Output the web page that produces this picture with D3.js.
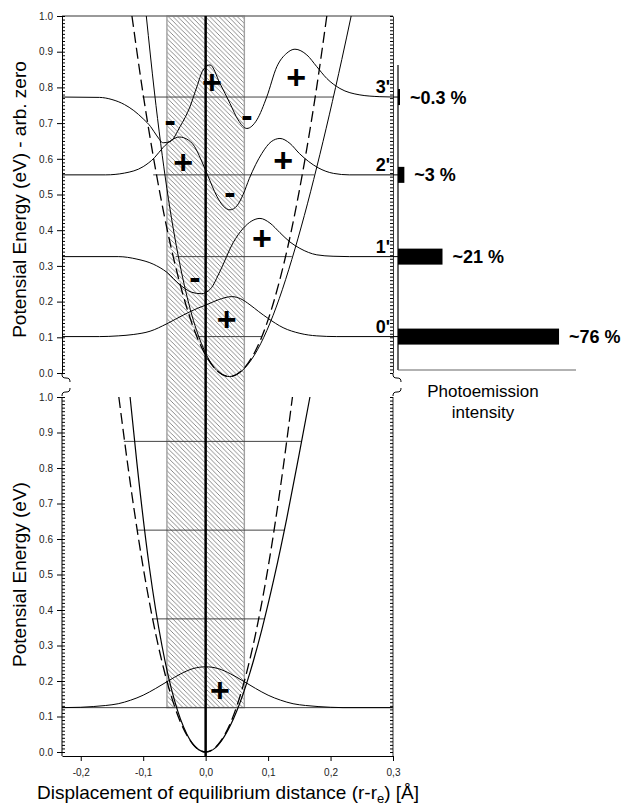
<!DOCTYPE html>
<html><head><meta charset="utf-8">
<script src="https://cdn.jsdelivr.net/npm/d3@7"></script>
<style>
body{margin:0;background:#fff}
text{font-family:Arial,"Liberation Sans",sans-serif}
</style>
</head><body>
<svg id="c" width="623" height="812"></svg>
<script>
// ---------- DATA ----------
const xTicks = [-0.2,-0.1,0.0,0.1,0.2,0.3];
const xTickLabels = ["-0,2","-0,1","0,0","0,1","0,2","0,3"];
const yTicks = [0,0.1,0.2,0.3,0.4,0.5,0.6,0.7,0.8,0.9,1.0];
const yTickLabels = ["0.0","0.1","0.2","0.3","0.4","0.5","0.6","0.7","0.8","0.9","1.0"];

// neutral (lower panel) potentials [x, E]
const neutralHarmonic = [[-0.139,1.0],[-0.12,0.749],[-0.1,0.52],[-0.08,0.333],[-0.06,0.187],[-0.04,0.083],[-0.02,0.021],[0,0],[0.02,0.021],[0.04,0.083],[0.06,0.187],[0.08,0.333],[0.1,0.52],[0.12,0.749],[0.139,1.0]];
const neutralMorse = [[-0.121,1.0],[-0.11,0.813],[-0.09,0.519],[-0.07,0.3],[-0.05,0.146],[-0.03,0.05],[-0.015,0.012],[0,0],[0.015,0.011],[0.03,0.044],[0.05,0.116],[0.07,0.218],[0.09,0.345],[0.11,0.493],[0.13,0.659],[0.15,0.841],[0.167,1.0]];
const neutralWave0 = [[-0.23,0.125],[-0.2,0.126],[-0.18,0.128],[-0.16,0.131],[-0.14,0.136],[-0.12,0.146],[-0.1,0.16],[-0.08,0.179],[-0.06,0.2],[-0.04,0.22],[-0.02,0.235],[0,0.24],[0.02,0.235],[0.04,0.22],[0.06,0.2],[0.08,0.179],[0.1,0.16],[0.12,0.146],[0.14,0.136],[0.16,0.131],[0.18,0.128],[0.2,0.126],[0.22,0.125],[0.3,0.125]];
const neutralLevels = [0.125,0.375,0.625,0.875];
const neutralLevelLeft = [-0.23,-0.085,-0.110,-0.131];
const neutralLevelRight = [0.3,0.095,0.127,0.154];

// ion (upper panel) potentials [x, E]
const ionHarmonic = [[-0.118,1.0],[-0.102,0.803],[-0.082,0.588],[-0.062,0.405],[-0.042,0.256],[-0.022,0.139],[-0.002,0.056],[0.018,0.007],[0.038,-0.01],[0.058,0.007],[0.078,0.056],[0.098,0.139],[0.118,0.256],[0.138,0.405],[0.158,0.588],[0.178,0.803],[0.194,1.0]];
const ionMorse = [[-0.095,1.0],[-0.082,0.787],[-0.062,0.516],[-0.042,0.311],[-0.022,0.162],[-0.002,0.063],[0.018,0.007],[0.038,-0.01],[0.058,0.006],[0.078,0.05],[0.098,0.119],[0.118,0.209],[0.138,0.318],[0.158,0.441],[0.178,0.577],[0.198,0.723],[0.218,0.878],[0.233,1.0]];
const ionLevels = [0.102,0.326,0.555,0.773];
const ionLevelNames = ["0'","1'","2'","3'"];
const ionLevelLeft = [-0.012,-0.048,-0.084,-0.101];
const ionLevelRight = [0.09,0.138,0.174,0.204];

const ionWave0 = [[-0.23,0.102],[-0.17,0.102],[-0.14,0.104],[-0.115,0.108],[-0.089,0.117],[-0.062,0.138],[-0.035,0.163],[-0.012,0.182],[0.0,0.19],[0.02,0.205],[0.042,0.214],[0.056,0.208],[0.071,0.191],[0.085,0.172],[0.1,0.153],[0.124,0.127],[0.151,0.111],[0.178,0.104],[0.21,0.102],[0.3,0.102]];
const ionWave1 = [[-0.23,0.326],[-0.14,0.326],[-0.11,0.319],[-0.084,0.305],[-0.062,0.282],[-0.041,0.247],[-0.022,0.226],[-0.007,0.222],[0.008,0.236],[0.023,0.285],[0.044,0.365],[0.06,0.405],[0.074,0.426],[0.087,0.433],[0.103,0.42],[0.119,0.393],[0.135,0.367],[0.151,0.349],[0.178,0.331],[0.204,0.327],[0.23,0.326],[0.3,0.326]];
const ionWave2 = [[-0.23,0.555],[-0.16,0.555],[-0.13,0.56],[-0.1,0.578],[-0.082,0.603],[-0.068,0.632],[-0.055,0.652],[-0.042,0.661],[-0.03,0.655],[-0.018,0.635],[-0.008,0.6],[0.003,0.555],[0.018,0.495],[0.028,0.468],[0.039,0.457],[0.05,0.468],[0.06,0.5],[0.07,0.545],[0.09,0.615],[0.105,0.648],[0.119,0.657],[0.135,0.643],[0.15,0.615],[0.18,0.575],[0.205,0.559],[0.23,0.555],[0.3,0.555]];
const ionWave3 = [[-0.23,0.773],[-0.17,0.772],[-0.15,0.766],[-0.13,0.752],[-0.115,0.735],[-0.1,0.712],[-0.088,0.69],[-0.078,0.664],[-0.068,0.645],[-0.057,0.648],[-0.041,0.69],[-0.025,0.746],[-0.014,0.802],[-0.004,0.849],[0.007,0.863],[0.023,0.811],[0.039,0.755],[0.052,0.709],[0.066,0.685],[0.082,0.709],[0.098,0.774],[0.114,0.858],[0.13,0.896],[0.143,0.907],[0.162,0.891],[0.178,0.858],[0.194,0.825],[0.215,0.797],[0.247,0.779],[0.279,0.774],[0.3,0.773]];

// wavefunction signs [x, E, sign]
const ionSigns = [[0.010,0.816,"+"],[-0.057,0.709,"-"],[0.066,0.723,"-"],[0.145,0.830,"+"],[-0.036,0.592,"+"],[0.039,0.508,"-"],[0.124,0.597,"+"],[-0.017,0.270,"-"],[0.090,0.377,"+"],[0.0335,0.150,"+"]];
const neutralSigns = [[0.023,0.175,"+"]];

// Franck-Condon region (hatched)
const fcRegion = [-0.062, 0.062];

// photoemission intensities (%) per ion level
const intensity = [76, 21, 3, 0.3];
const intensityLabels = ["~76 %","~21 %","~3 %","~0.3 %"];

// ---------- CHART ----------
const svg = d3.select("#c");
const x = d3.scaleLinear().domain([-0.23,0.3]).range([62,393]);
const yU = d3.scaleLinear().domain([0,1]).range([373,16]);
const yL = d3.scaleLinear().domain([0,1]).range([752,397]);
const xb = d3.scaleLinear().domain([0,84]).range([398,576]);
const minor = d3.range(0,1.0001,0.01);

const defs = svg.append("defs");
const pat = defs.append("pattern").attr("id","hatch").attr("patternUnits","userSpaceOnUse")
  .attr("width",4.6).attr("height",4.6);
pat.append("path").attr("d","M-1,-1 L5.6,5.6 M-2.3,2.3 L2.3,6.9 M2.3,-2.3 L6.9,2.3")
  .attr("stroke","#6f6f6f").attr("stroke-width",0.8);

// hatched region
svg.append("rect")
  .attr("x",x(fcRegion[0])).attr("y",yU(1))
  .attr("width",x(fcRegion[1])-x(fcRegion[0]))
  .attr("height",yL(neutralLevels[0])-yU(1))
  .attr("fill","url(#hatch)").attr("stroke","#a0a0a0").attr("stroke-width",1.4);

const line = (ys) => d3.line().x(d=>x(d[0])).y(d=>ys(d[1])).curve(d3.curveMonotoneX);

// ---- upper panel ----
const up = svg.append("g");
up.append("line").attr("x1",x(-0.23)).attr("x2",x(0.3)).attr("y1",yU(1)).attr("y2",yU(1))
  .attr("stroke","#777").attr("stroke-width",1.5);
ionLevels.forEach((e,i)=>{
  up.append("line").attr("x1",x(ionLevelLeft[i])).attr("x2",x(ionLevelRight[i]))
    .attr("y1",yU(e)).attr("y2",yU(e)).attr("stroke","#444").attr("stroke-width",1);
});
[ionWave0,ionWave1,ionWave2,ionWave3].forEach(w=>{
  up.append("path").attr("d",line(yU)(w)).attr("fill","none").attr("stroke","#000").attr("stroke-width",1);
});
up.append("path").attr("d",line(yU)(ionHarmonic)).attr("fill","none").attr("stroke","#000")
  .attr("stroke-width",1.3).attr("stroke-dasharray","11,5");
up.append("path").attr("d",line(yU)(ionMorse)).attr("fill","none").attr("stroke","#000").attr("stroke-width",1);

// ---- lower panel ----
const lo = svg.append("g");
neutralLevels.forEach((e,i)=>{
  lo.append("line").attr("x1",x(neutralLevelLeft[i])).attr("x2",x(neutralLevelRight[i]))
    .attr("y1",yL(e)).attr("y2",yL(e)).attr("stroke","#444").attr("stroke-width",1);
});
lo.append("path").attr("d",line(yL)(neutralWave0)).attr("fill","none").attr("stroke","#000").attr("stroke-width",1);
lo.append("path").attr("d",line(yL)(neutralHarmonic)).attr("fill","none").attr("stroke","#000")
  .attr("stroke-width",1.3).attr("stroke-dasharray","11,5");
lo.append("path").attr("d",line(yL)(neutralMorse)).attr("fill","none").attr("stroke","#000").attr("stroke-width",1.2);

// equilibrium line
svg.append("line").attr("x1",x(0)).attr("x2",x(0)).attr("y1",yU(1)).attr("y2",756)
  .attr("stroke","#000").attr("stroke-width",2.5);

// signs
const signText = (g, ys, arr) => g.selectAll(null).data(arr).enter().append("text")
  .attr("x",d=>x(d[0])).attr("y",d=>ys(d[1])).attr("text-anchor","middle")
  .attr("dominant-baseline","central").attr("font-size",34).attr("font-weight","bold")
  .text(d=>d[2]);
signText(up, yU, ionSigns);
signText(lo, yL, neutralSigns);

// level names
up.selectAll(null).data(ionLevels).enter().append("text")
  .attr("x",390).attr("y",d=>yU(d)-4).attr("text-anchor","end")
  .attr("font-size",18).attr("font-weight","bold").text((d,i)=>ionLevelNames[i]);

// ---- axes ----
function styleAxis(g){
  g.selectAll("path.domain").attr("stroke","#000");
  g.selectAll("text").attr("font-size",10).attr("fill","#222").style("font-family","Arial, 'Liberation Sans', sans-serif");
}
// upper left
const aUL = svg.append("g").attr("transform","translate(62,0)")
  .call(d3.axisLeft(yU).tickValues(yTicks).tickFormat((d,i)=>yTickLabels[i]).tickSize(5).tickSizeOuter(0).tickPadding(4));
styleAxis(aUL);
svg.append("g").attr("transform","translate(62,0)")
  .call(d3.axisRight(yU).tickValues(minor).tickSize(3).tickFormat(""))
  .call(g=>g.select(".domain").remove());
// upper right
svg.append("g").attr("transform","translate(393,0)")
  .call(d3.axisLeft(yU).tickValues(minor).tickSize(3).tickSizeOuter(0).tickFormat(""))
  .call(g=>g.select(".domain").attr("stroke","#333"));
// lower left
const aLL = svg.append("g").attr("transform","translate(62,0)")
  .call(d3.axisLeft(yL).tickValues(yTicks).tickFormat((d,i)=>yTickLabels[i]).tickSize(5).tickSizeOuter(0).tickPadding(4));
styleAxis(aLL);
aLL.select(".domain").attr("d","M0,397V756");
svg.append("g").attr("transform","translate(62,0)")
  .call(d3.axisRight(yL).tickValues(minor).tickSize(3).tickFormat(""))
  .call(g=>g.select(".domain").remove());
// lower right
svg.append("g").attr("transform","translate(393,0)")
  .call(d3.axisLeft(yL).tickValues(minor).tickSize(3).tickSizeOuter(0).tickFormat(""))
  .call(g=>g.select(".domain").attr("d","M0,397V756").attr("stroke","#333"));
// bottom
const aB = svg.append("g").attr("transform","translate(0,756)")
  .call(d3.axisBottom(x).tickValues(xTicks).tickFormat((d,i)=>xTickLabels[i]).tickSize(5).tickSizeOuter(0).tickPadding(8));
styleAxis(aB);

// axis breaks
function brk(cx, cy, up){
  const s = up ? 1 : -1;
  svg.append("path").attr("d",`M${cx},${cy} c0,${3*s} 1,${4*s} 4,${4*s} s4,${1*s} 4,${4*s}`)
    .attr("fill","none").attr("stroke","#000").attr("stroke-width",1);
}
brk(62, yU(0)+1, true); brk(62, 396, false);
brk(393, yU(0)+1, true); brk(393, 396, false);

// axis titles
svg.append("text").attr("transform",`translate(26,${(yU(0)+yU(1))/2+5}) rotate(-90)`)
  .attr("text-anchor","middle").attr("font-size",19).text("Potensial Energy (eV) - arb. zero");
svg.append("text").attr("transform",`translate(26,${(yL(0)+yL(1))/2}) rotate(-90)`)
  .attr("text-anchor","middle").attr("font-size",19).text("Potensial Energy (eV)");
const xt = svg.append("text").attr("x",228).attr("y",799).attr("text-anchor","middle").attr("font-size",19);
xt.append("tspan").text("Displacement of equilibrium distance (r-r");
xt.append("tspan").attr("font-size",13).attr("dy",4).text("e");
xt.append("tspan").attr("dy",-4).text(") [Å]");

// ---- photoemission bars ----
const bc = svg.append("g");
bc.append("line").attr("x1",xb(0)).attr("x2",xb(0)).attr("y1",65).attr("y2",370).attr("stroke","#000").attr("stroke-width",1.2);
bc.append("line").attr("x1",xb(0)).attr("x2",xb(84)).attr("y1",370).attr("y2",370).attr("stroke","#666").attr("stroke-width",1.2);
bc.selectAll(".tk").data(ionLevels).enter().append("line")
  .attr("x1",393).attr("x2",xb(0)).attr("y1",d=>yU(d)).attr("y2",d=>yU(d)).attr("stroke","#000");
bc.selectAll(".bar").data(intensity).enter().append("rect")
  .attr("x",xb(0)).attr("y",(d,i)=>yU(ionLevels[i])-8)
  .attr("width",d=>Math.max(xb(d)-xb(0),2)).attr("height",16).attr("fill","#000");
bc.selectAll(".bl").data(intensity).enter().append("text")
  .attr("x",d=>xb(0)+Math.max(xb(d)-xb(0),2)+10)
  .attr("y",(d,i)=>yU(ionLevels[i])+6.5)
  .attr("font-size",18).attr("font-weight","bold").text((d,i)=>intensityLabels[i]);
bc.append("text").attr("x",483).attr("y",397).attr("text-anchor","middle").attr("font-size",17).text("Photoemission");
bc.append("text").attr("x",483).attr("y",418).attr("text-anchor","middle").attr("font-size",17).text("intensity");
</script>
</body></html>
